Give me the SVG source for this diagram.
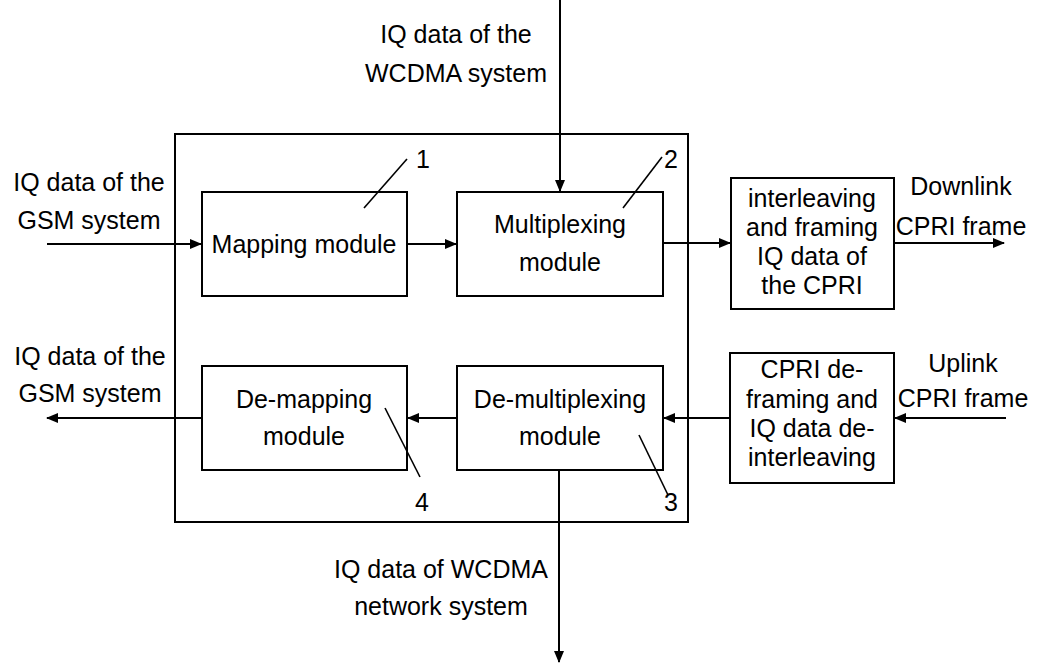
<svg xmlns="http://www.w3.org/2000/svg" width="1042" height="665" viewBox="0 0 1042 665">
<style>
text{font-family:"Liberation Sans",Arial,sans-serif;font-size:25px;fill:#000;text-anchor:middle}
.box{fill:#fff;stroke:#000;stroke-width:2}
.ln{fill:none;stroke:#000;stroke-width:2}
.ld{fill:none;stroke:#000;stroke-width:1.6}
</style>
<defs>
<marker id="ah" markerWidth="12" markerHeight="10" refX="11" refY="5" orient="auto" markerUnits="userSpaceOnUse">
<path d="M0,0 L12,5 L0,10 Z" fill="#000"/>
</marker>
</defs>
<g id="outer"><rect class="box" x="175" y="134" width="513" height="388"/></g>
<g id="mapping"><rect class="box" x="202" y="192" width="205" height="104"/><text x="304" y="253">Mapping module</text></g>
<g id="multiplexing"><rect class="box" x="457" y="192" width="206" height="104"/><text x="560" y="233">Multiplexing</text><text x="560" y="271">module</text></g>
<g id="demapping"><rect class="box" x="202" y="366" width="205" height="104"/><text x="304" y="408">De-mapping</text><text x="304" y="445">module</text></g>
<g id="demultiplexing"><rect class="box" x="457" y="366" width="206" height="104"/><text x="560" y="408">De-multiplexing</text><text x="560" y="445">module</text></g>
<g id="interleaving"><rect class="box" x="731" y="178" width="163" height="131"/><text x="812" y="207">interleaving</text><text x="812" y="236">and framing</text><text x="812" y="265">IQ data of</text><text x="812" y="294">the CPRI</text></g>
<g id="deframing"><rect class="box" x="730" y="353" width="164" height="130"/><text x="812" y="378">CPRI de-</text><text x="812" y="408">framing and</text><text x="812" y="437">IQ data de-</text><text x="812" y="466">interleaving</text></g>
<g id="labels">
<text x="456" y="43">IQ data of the</text><text x="456" y="82">WCDMA system</text>
<text x="89" y="191">IQ data of the</text><text x="89" y="229">GSM system</text>
<text x="90" y="365">IQ data of the</text><text x="90" y="402">GSM system</text>
<text x="961" y="195">Downlink</text><text x="961" y="235">CPRI frame</text>
<text x="963" y="372">Uplink</text><text x="963" y="407">CPRI frame</text>
<text x="441" y="578">IQ data of WCDMA</text><text x="441" y="615">network system</text>
<text x="423" y="168">1</text><text x="671" y="168">2</text><text x="671" y="511">3</text><text x="422" y="511">4</text>
</g>
<g id="connectors">
<line class="ln" x1="560" y1="0" x2="560" y2="191" marker-end="url(#ah)"/>
<line class="ln" x1="47" y1="244" x2="201" y2="244" marker-end="url(#ah)"/>
<line class="ln" x1="407" y1="244" x2="456" y2="244" marker-end="url(#ah)"/>
<line class="ln" x1="663" y1="243" x2="730" y2="243" marker-end="url(#ah)"/>
<line class="ln" x1="894" y1="243" x2="1004" y2="243" marker-end="url(#ah)"/>
<line class="ln" x1="1006" y1="418" x2="895" y2="418" marker-end="url(#ah)"/>
<line class="ln" x1="730" y1="418" x2="664" y2="418" marker-end="url(#ah)"/>
<line class="ln" x1="457" y1="418" x2="408" y2="418" marker-end="url(#ah)"/>
<line class="ln" x1="202" y1="418" x2="47" y2="418" marker-end="url(#ah)"/>
<line class="ln" x1="559" y1="470" x2="559" y2="662" marker-end="url(#ah)"/>
<line class="ld" x1="364" y1="208" x2="407" y2="159"/>
<line class="ld" x1="623" y1="208" x2="662" y2="157"/>
<line class="ld" x1="639" y1="435" x2="668" y2="495"/>
<line class="ld" x1="385" y1="408" x2="420" y2="477"/>
</g>
</svg>
